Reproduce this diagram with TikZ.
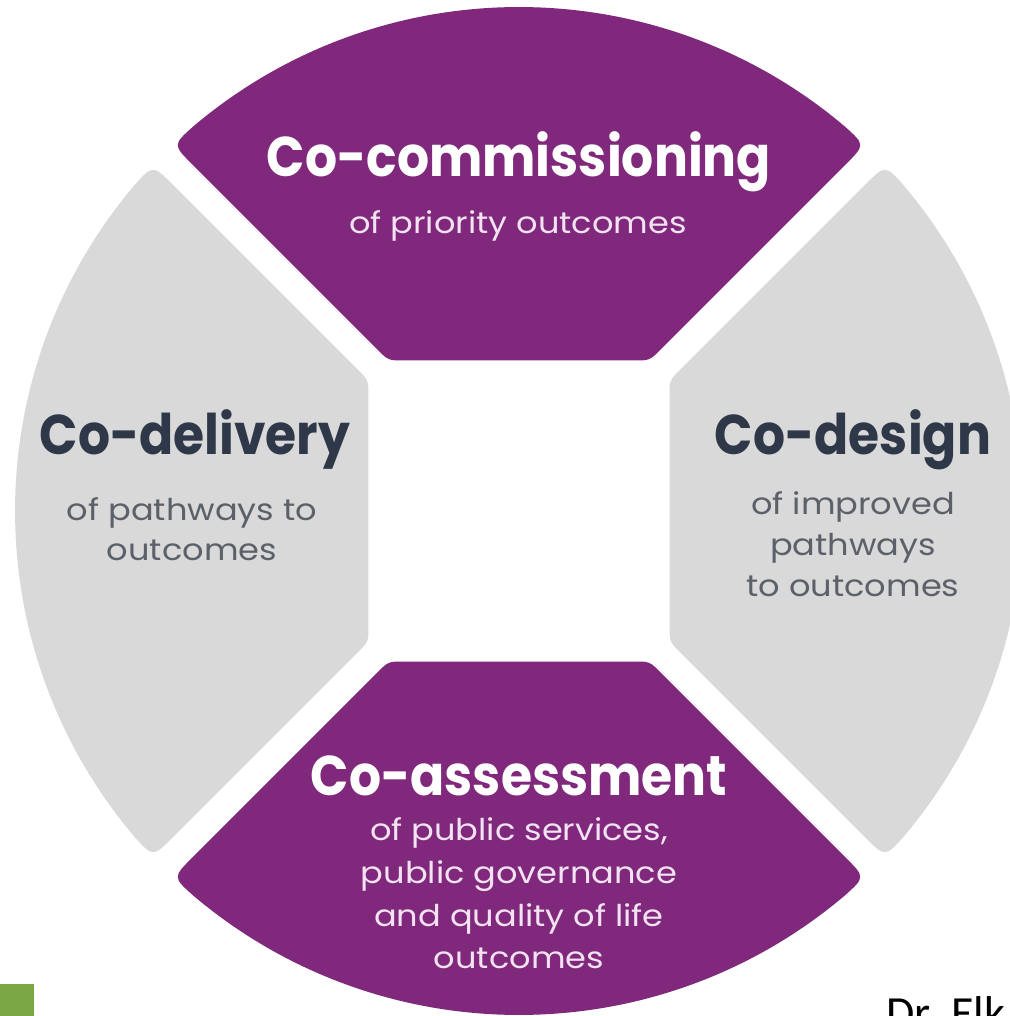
\documentclass[tikz,border=0pt]{standalone}
\usepackage{graphicx}
\usepackage{fontspec}
\setmainfont{Poppins}
\newfontfamily\califont{Carlito}
\definecolor{segpurple}{RGB}{128,40,124}
\definecolor{seggray}{RGB}{217,217,217}
\definecolor{headdark}{RGB}{46,56,72}
\definecolor{subdark}{RGB}{92,96,104}
\definecolor{subpale}{RGB}{242,226,242}
\definecolor{tabgreen}{RGB}{123,168,67}
\newcommand{\ringsegpath}{(-114.7,150.5) -- (114.7,150.5) .. controls (130.7,150.5) .. (142.0,161.8) -- (326.5,346.4) .. controls (346.3,366.2) .. (49.77:504) arc[start angle=49.77, end angle=130.23, radius=504] .. controls (-346.3,366.2) .. (-326.5,346.4) -- (-142.0,161.8) .. controls (-130.7,150.5) .. (-114.7,150.5) -- cycle}
\newcommand{\headtxt}[1]{\scalebox{0.9}[1]{#1}}
\newcommand{\subtxt}[1]{\scalebox{1.12}[1]{#1}}
\begin{document}
\begin{tikzpicture}[x=1pt,y=1pt,
  headw/.style={font=\fontsize{56}{60}\selectfont\bfseries, text=white, anchor=base, inner sep=0},
  headd/.style={font=\fontsize{56}{60}\selectfont\bfseries, text=headdark, anchor=base, inner sep=0},
  subw/.style={font=\fontsize{30}{34}\selectfont, text=subpale, anchor=base, inner sep=0},
  subd/.style={font=\fontsize{30}{34}\selectfont, text=subdark, anchor=base, inner sep=0}]
\useasboundingbox (-519,-505) rectangle (490,511);
\fill[white] (-519,-505) rectangle (490,511);
% segments
\fill[segpurple] \ringsegpath;
\begin{scope}[rotate=90]\fill[seggray] \ringsegpath;\end{scope}
\begin{scope}[rotate=180]\fill[segpurple] \ringsegpath;\end{scope}
\begin{scope}[rotate=270]\fill[seggray] \ringsegpath;\end{scope}
% top
\node[headw] (comm) at (0,334) {\headtxt{Co-commissioning}};
\node[subw] (commsub) at (-1,277) {\subtxt{of priority outcomes}};
% left
\node[headd] (deliv) at (-324,56) {\headtxt{Co-delivery}};
\node[subd] (delivs1) at (-327,-10) {\subtxt{of pathways to}};
\node[subd] (delivs2) at (-327,-50) {\subtxt{outcomes}};
% right
\node[headd] (design) at (334,56) {\headtxt{Co-design}};
\node[subd] (designs1) at (334,-4) {\subtxt{of improved}};
\node[subd] (designs2) at (334,-45) {\subtxt{pathways}};
\node[subd] (designs3) at (334,-85) {\subtxt{to outcomes}};
% bottom
\node[headw] (assess) at (0,-284) {\headtxt{Co-assessment}};
\node[subw] (assess1) at (0,-329) {\subtxt{of public services,}};
\node[subw] (assess2) at (0,-372) {\subtxt{public governance}};
\node[subw] (assess3) at (0,-415) {\subtxt{and quality of life}};
\node[subw] (assess4) at (0,-457) {\subtxt{outcomes}};
% footer
\fill[tabgreen] (-519,-505) rectangle (-485,-473);
\node[font=\califont\fontsize{46}{50}\selectfont, text=black, anchor=base west, inner sep=0] (author) at (367,-517) {Dr. Elk};
\end{tikzpicture}
\end{document}
